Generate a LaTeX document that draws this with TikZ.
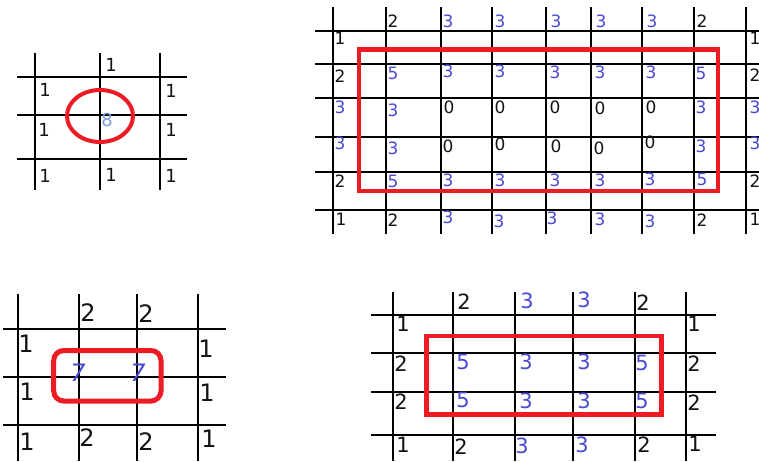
\documentclass[tikz,border=0pt]{standalone}
\usepackage{fontspec}
\setmainfont{DejaVu Sans}
\definecolor{paintred}{RGB}{237,28,36}
\definecolor{blu}{RGB}{74,74,212}
\definecolor{lblu}{RGB}{126,158,222}
\definecolor{dk}{RGB}{20,20,20}
\tikzset{
  gridline/.style={draw=black,line width=1.9pt},
  redmark/.style={draw=paintred,line width=4.5pt},
  num/.style={inner sep=0pt,anchor=center},
  fTL/.style={font=\fontsize{18}{18}\selectfont},
  fTR/.style={font=\fontsize{17}{17}\selectfont},
  fBL/.style={font=\fontsize{24}{24}\selectfont},
  fBR/.style={font=\fontsize{21}{21}\selectfont},
}
\begin{document}
\begin{tikzpicture}[x=1pt,y=-1pt]
\useasboundingbox (0,0) rectangle (759,461);
\clip (0,0) rectangle (759,461);
\fill[white] (0,0) rectangle (759,461);
% ---------- top-left panel ----------
\foreach \x in {35,100,160} \draw[gridline] (\x,53) -- (\x,190);
\foreach \y in {77,115,159} \draw[gridline] (17,\y) -- (187,\y);
\foreach \x/\y/\t/\c [count=\i] in {
  111/65/1/dk, 45/90/1/dk, 171/91/1/dk,
  44/130/1/dk, 107/120/8/lblu, 171/130/1/dk,
  45/176/1/dk, 111/175/1/dk, 171/176/1/dk}
  \node[num,fTL,text=\c] (tl\i) at (\x,\y) {\t};
\draw[draw=paintred,line width=4pt] (100,116) ellipse [x radius=33pt, y radius=26pt];
% ---------- top-right panel ----------
\foreach \x in {333,386,441,492,546,591,642,694,746} \draw[gridline] (\x,7) -- (\x,234);
\foreach \y in {31,64,98,137,172,210} \draw[gridline] (315,\y) -- (759,\y);
\foreach \x/\y/\t/\c [count=\i] in {
  393/21/2/dk, 448/21/3/blu, 500/21/3/blu, 556/21/3/blu, 601/21/3/blu, 652/21/3/blu, 702/21/2/dk,
  340/38/1/dk, 755/38/1/dk,
  340/76/2/dk, 393/73/5/blu, 448/71/3/blu, 500/71/3/blu, 555/72/3/blu, 600/72/3/blu, 651/72/3/blu, 701/73/5/blu, 755/75/2/dk,
  340/107/3/blu, 393/110/3/blu, 449/107/0/dk, 500/107/0/dk, 555/107/0/dk, 600/108/0/dk, 651/107/0/dk, 701/107/3/blu, 755/107/3/blu,
  340/143/3/blu, 393/148/3/blu, 448/146/0/dk, 500/144/0/dk, 556/146/0/dk, 599/148/0/dk, 650/142/0/dk, 701/146/3/blu, 755/143/3/blu,
  340/181/2/dk, 393/181/5/blu, 448/180/3/blu, 500/180/3/blu, 555/180/3/blu, 600/180/3/blu, 650/179/3/blu, 702/179/5/blu, 755/181/2/dk,
  341/219/1/dk, 393/220/2/dk, 448/217/3/blu, 499/221/3/blu, 552/218/3/blu, 600/219/3/blu, 650/221/3/blu, 702/220/2/dk, 755/219/1/dk}
  \node[num,fTR,text=\c] (tr\i) at (\x,\y) {\t};
\draw[redmark] (359,49.5) rectangle (718,191);
% ---------- bottom-left panel ----------
\foreach \x in {18,79,137,198} \draw[gridline] (\x,294) -- (\x,461);
\foreach \y in {329,377,425} \draw[gridline] (3,\y) -- (226,\y);
\foreach \x/\y/\t/\c [count=\i] in {
  88/313/2/dk, 146/314/2/dk,
  26/344/1/dk, 206/349/1/dk,
  27/392/1/dk, 207/393/1/dk,
  27/442/1/dk, 87/438/2/dk, 146/442/2/dk, 209/439/1/dk}
  \node[num,fBL,text=\c] (bl\i) at (\x,\y) {\t};
\node[num,text=blu,font=\fontsize{24}{24}\selectfont\itshape] (bl7a) at (78,373) {7};
\node[num,text=blu,font=\fontsize{24}{24}\selectfont\itshape] (bl7b) at (138,373) {7};
\draw[draw=paintred,line width=5pt,rounded corners=10pt] (53.7,350.5) rectangle (161,401);
% ---------- bottom-right panel ----------
\foreach \x in {393,453,515,573,635,686} \draw[gridline] (\x,292) -- (\x,461);
\foreach \y in {315,353,392,435} \draw[gridline] (371,\y) -- (716,\y);
\foreach \x/\y/\t/\c [count=\i] in {
  464/302/2/dk, 527/301/3/blu, 584/300/3/blu, 643/303/2/dk,
  403/324/1/dk, 694/324/1/dk,
  401/364/2/dk, 463/362/5/blu, 526/362/3/blu, 584/362/3/blu, 642/363/5/blu, 694/364/2/dk,
  401/402/2/dk, 463/400/5/blu, 526/401/3/blu, 584/401/3/blu, 642/401/5/blu, 694/403/2/dk,
  403/445/1/dk, 461/447/2/dk, 522/446/3/blu, 582/445/3/blu, 644/445/2/dk, 695/444/1/dk}
  \node[num,fBR,text=\c] (br\i) at (\x,\y) {\t};
\draw[redmark] (426.5,336) rectangle (661.5,414.5);
\end{tikzpicture}
\end{document}
